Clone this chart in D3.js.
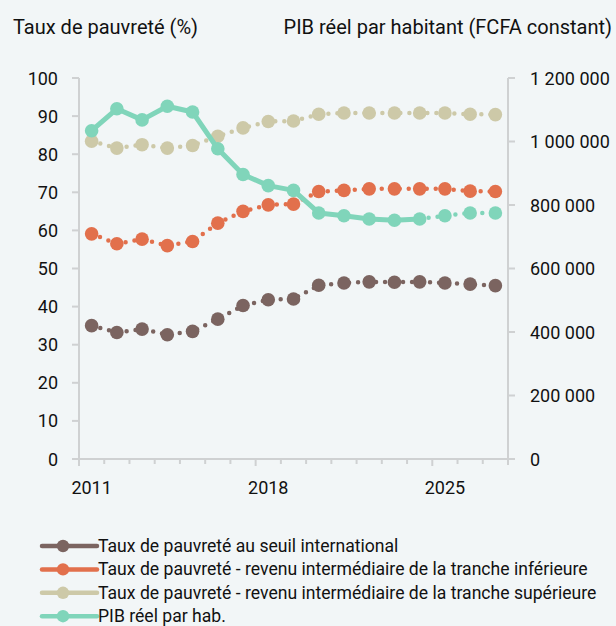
<!DOCTYPE html>
<html>
<head>
<meta charset="utf-8">
<script src="https://cdn.jsdelivr.net/npm/d3@7"></script>
<style>
  body { margin: 0; background: #f2f6f7; }
  svg { display: block; font-family: Roboto, sans-serif; }
  text { fill: #111; }
</style>
</head>
<body>
<svg id="chart" width="616" height="626"></svg>
<script>
const years = d3.range(2011, 2028)
const yearLabels = [2011, 2018, 2025]
const leftTicks = d3.range(0, 101, 10)
const rightTicks = [0, 200000, 400000, 600000, 800000, 1000000, 1200000]

// taux de pauvreté (%)
const seuilInternational = [35.0, 33.2, 34.1, 32.6, 33.5, 36.7, 40.3, 41.8, 42.0, 45.6, 46.2, 46.5, 46.4, 46.5, 46.2, 45.9, 45.5]
const trancheInferieure = [59.1, 56.5, 57.7, 56.0, 57.1, 61.9, 65.0, 66.7, 66.9, 70.2, 70.5, 70.9, 70.9, 70.9, 70.9, 70.3, 70.2]
const trancheSuperieure = [83.4, 81.6, 82.5, 81.6, 82.3, 84.7, 86.9, 88.6, 88.7, 90.5, 90.8, 90.8, 90.8, 90.8, 90.8, 90.5, 90.4]
// PIB réel par habitant (FCFA constant)
const pibHab = [1034000, 1103000, 1068000, 1111000, 1093000, 977000, 896000, 861000, 846000, 775000, 766000, 756000, 752000, 756000, 766000, 775000, 775000]
const pibLastObserved = 2024

const legendLabels = [
    'Taux de pauvreté au seuil international',
    'Taux de pauvreté - revenu intermédiaire de la tranche inférieure',
    'Taux de pauvreté - revenu intermédiaire de la tranche supérieure',
    'PIB réel par hab.'
]
const colors = ['#7b6460', '#e2704c', '#cdc9a8', '#80d5ba']

const plot = { left: 79, right: 508, top: 78, bottom: 459 }
const axisColor = '#cfd1d2'

const x = d3.scaleBand().domain(years).range([plot.left, plot.right])
const yLeft = d3.scaleLinear().domain([0, 100]).range([plot.bottom, plot.top])
const yRight = d3.scaleLinear().domain([0, 1200000]).range([plot.bottom, plot.top])
const cx = (yr) => x(yr) + x.bandwidth() / 2

const svg = d3.select('#chart')

// titles
svg.append('text').attr('x', 13).attr('y', 34).style('font-size', '20px').text('Taux de pauvreté (%)')
svg.append('text').attr('x', 612).attr('y', 34).attr('text-anchor', 'end').style('font-size', '20px')
    .text('PIB réel par habitant (FCFA constant)')

// left axis
const gl = svg.append('g')
gl.append('line').attr('x1', plot.left).attr('x2', plot.left)
    .attr('y1', plot.top).attr('y2', plot.bottom + 6)
    .attr('stroke', axisColor).attr('stroke-width', 2)
gl.selectAll('line.tick').data(leftTicks).enter().append('line')
    .attr('class', 'tick')
    .attr('x1', plot.left - 7).attr('x2', plot.left)
    .attr('y1', yLeft).attr('y2', yLeft)
    .attr('stroke', axisColor).attr('stroke-width', 2)
gl.selectAll('text').data(leftTicks).enter().append('text')
    .attr('x', 58).attr('y', (d) => yLeft(d) + 6.5)
    .attr('text-anchor', 'end').style('font-size', '18px')
    .text((d) => d)

// right axis
const gr = svg.append('g')
gr.append('line').attr('x1', plot.right).attr('x2', plot.right)
    .attr('y1', plot.top).attr('y2', plot.bottom + 6)
    .attr('stroke', axisColor).attr('stroke-width', 2)
gr.selectAll('line.tick').data(rightTicks).enter().append('line')
    .attr('class', 'tick')
    .attr('x1', plot.right).attr('x2', plot.right + 7)
    .attr('y1', yRight).attr('y2', yRight)
    .attr('stroke', axisColor).attr('stroke-width', 2)
gr.selectAll('text').data(rightTicks).enter().append('text')
    .attr('x', 530).attr('y', (d) => yRight(d) + 6.5)
    .style('font-size', '18px')
    .text((d) => d3.format(',')(d).replace(/,/g, ' '))

// bottom axis
const lastYear = years[years.length - 1]
const gb = svg.append('g')
gb.append('line').attr('x1', plot.left).attr('x2', plot.right)
    .attr('y1', plot.bottom).attr('y2', plot.bottom)
    .attr('stroke', axisColor).attr('stroke-width', 2)
gb.selectAll('line.tick').data(years.concat([lastYear + 1])).enter().append('line')
    .attr('class', 'tick')
    .attr('x1', (d) => d > lastYear ? plot.right : x(d))
    .attr('x2', (d) => d > lastYear ? plot.right : x(d))
    .attr('y1', plot.bottom)
    .attr('y2', (d) => plot.bottom + (yearLabels.includes(d) ? 7 : 5))
    .attr('stroke', axisColor).attr('stroke-width', 2)
gb.selectAll('text').data(yearLabels).enter().append('text')
    .attr('x', cx).attr('y', 494)
    .attr('text-anchor', 'middle').style('font-size', '18px')
    .text((d) => d)

// series
const povertySeries = [seuilInternational, trancheInferieure, trancheSuperieure]
const lineLeft = d3.line().x((d, i) => cx(years[i])).y((d) => yLeft(d))

povertySeries.forEach(function(values, k) {
    const g = svg.append('g')
    g.append('path')
        .attr('d', lineLeft(values))
        .attr('fill', 'none')
        .attr('stroke', colors[k])
        .attr('stroke-width', 4.5)
        .attr('stroke-linecap', 'round')
        .attr('stroke-dasharray', '0 9')
    g.selectAll('circle').data(values).enter().append('circle')
        .attr('cx', (d, i) => cx(years[i]))
        .attr('cy', yLeft)
        .attr('r', 6.8)
        .attr('fill', colors[k])
})

// PIB: solid for observed years, dotted for projections
const pibPts = pibHab.map((v, i) => ({ year: years[i], v: v }))
const lineRight = d3.line().x((d) => cx(d.year)).y((d) => yRight(d.v))
const gp = svg.append('g')
gp.append('path')
    .attr('d', lineRight(pibPts.filter((d) => d.year <= pibLastObserved)))
    .attr('fill', 'none').attr('stroke', colors[3]).attr('stroke-width', 5)
    .attr('stroke-linejoin', 'round')
gp.append('path')
    .attr('d', lineRight(pibPts.filter((d) => d.year >= pibLastObserved)))
    .attr('fill', 'none').attr('stroke', colors[3]).attr('stroke-width', 4.5)
    .attr('stroke-linecap', 'round').attr('stroke-dasharray', '0 9')
gp.selectAll('circle').data(pibPts).enter().append('circle')
    .attr('cx', (d) => cx(d.year))
    .attr('cy', (d) => yRight(d.v))
    .attr('r', 6.8)
    .attr('fill', colors[3])

// legend
const legend = svg.append('g')
legendLabels.forEach(function(label, k) {
    const ly = 546 + k * 23.4
    legend.append('line').attr('x1', 42).attr('x2', 97).attr('y1', ly).attr('y2', ly)
        .attr('stroke', colors[k]).attr('stroke-width', 4.5).attr('stroke-linecap', 'round')
    legend.append('circle').attr('cx', 63).attr('cy', ly).attr('r', 6.2).attr('fill', colors[k])
    legend.append('text').attr('x', 98).attr('y', ly + 6).style('font-size', '17.6px').text(label)
})
</script>
</body>
</html>
